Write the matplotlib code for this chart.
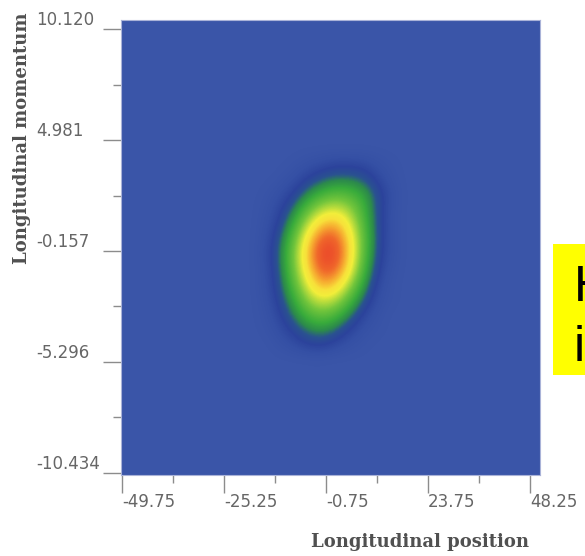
import matplotlib
matplotlib.use("Agg")
import matplotlib.pyplot as plt
from matplotlib.colors import LinearSegmentedColormap
from matplotlib.patches import Rectangle
import numpy as np

# axis ticks as printed on the chart
pos_ticks = [-49.75, -25.25, -0.75, 23.75, 48.25]
pos_minor = [-37.5, -13.0, 11.5, 36.0]
mom_ticks = [-10.434, -5.296, -0.157, 4.981, 10.120]
mom_minor = [-7.865, -2.727, 2.412, 7.551]
pos_labels = ["-49.75", "-25.25", "-0.75", "23.75", "48.25"]
mom_labels = ["-10.434", "-5.296", "-0.157", "4.981", "10.120"]

# region of phase space covered by the density grid (position, momentum)
pos_range = (-20.3, 20.0)
mom_range = (-5.55, 4.87)

# relative density, top row = highest momentum
density = np.array([
    [0, 0.00, 0.00, 0.00, 0.00, 0.00, 0.00, 0.00, 0.00, 0.00, 0.00, 0],
    [0, 0.00, 0.00, 0.01, 0.03, 0.05, 0.07, 0.07, 0.06, 0.03, 0.01, 0],
    [0, 0.00, 0.01, 0.04, 0.09, 0.14, 0.17, 0.17, 0.14, 0.07, 0.02, 0],
    [0, 0.01, 0.04, 0.09, 0.19, 0.28, 0.33, 0.31, 0.24, 0.12, 0.04, 0],
    [0, 0.02, 0.07, 0.17, 0.34, 0.49, 0.54, 0.45, 0.28, 0.12, 0.03, 0],
    [0, 0.03, 0.10, 0.26, 0.51, 0.72, 0.75, 0.57, 0.31, 0.12, 0.03, 0],
    [0, 0.04, 0.14, 0.35, 0.66, 0.90, 0.90, 0.66, 0.34, 0.12, 0.03, 0],
    [0, 0.05, 0.16, 0.40, 0.73, 0.97, 0.95, 0.68, 0.33, 0.11, 0.03, 0],
    [0, 0.04, 0.15, 0.38, 0.68, 0.91, 0.88, 0.62, 0.29, 0.09, 0.02, 0],
    [0, 0.04, 0.13, 0.33, 0.58, 0.77, 0.71, 0.47, 0.22, 0.06, 0.01, 0],
    [0, 0.03, 0.11, 0.25, 0.45, 0.56, 0.50, 0.32, 0.14, 0.04, 0.01, 0],
    [0, 0.02, 0.08, 0.18, 0.31, 0.37, 0.31, 0.18, 0.07, 0.02, 0.00, 0],
    [0, 0.01, 0.05, 0.11, 0.18, 0.21, 0.16, 0.08, 0.03, 0.01, 0.00, 0],
    [0, 0.00, 0.02, 0.05, 0.09, 0.10, 0.06, 0.03, 0.01, 0.00, 0.00, 0],
    [0, 0.00, 0.00, 0.00, 0.00, 0.00, 0.00, 0.00, 0.00, 0.00, 0.00, 0],
])

bg = "#3a55a8"
cmap = LinearSegmentedColormap.from_list("blob", [
    (0.00, bg), (0.04, "#3550a5"), (0.09, "#2c439c"), (0.14, "#2a5290"),
    (0.19, "#2c8a4c"), (0.26, "#38ab3b"), (0.40, "#74c63c"), (0.50, "#b8dc3c"),
    (0.58, "#f2ee3a"), (0.66, "#f8e03a"), (0.76, "#f6a830"), (0.86, "#f0682b"),
    (1.00, "#e8372a")])
cmap.set_under(bg)
cmap.set_over("#e8372a")

fig = plt.figure(figsize=(5.85, 5.56), dpi=100)
ax = fig.add_axes([121/585, 1 - 475/556, 419/585, 455/556])
ax.set_facecolor(bg)

ax.imshow(density, cmap=cmap, vmin=0, vmax=1, origin="upper", aspect="auto",
          interpolation="bicubic",
          extent=[pos_range[0], pos_range[1], mom_range[0], mom_range[1]])

ax.set_xlim(-50.0, 50.6)
ax.set_ylim(-10.53, 10.54)

for s in ax.spines.values():
    s.set_color("#aab3d8")
    s.set_linewidth(0.8)

tick_col = "#8c8c8c"
lab_col = "#666666"
ax.set_xticks(pos_ticks)
ax.set_xticklabels(pos_labels)
ax.set_xticks(pos_minor, minor=True)
ax.set_yticks(mom_ticks)
ax.set_yticklabels(mom_labels)
ax.set_yticks(mom_minor, minor=True)

ax.tick_params(axis="x", which="major", direction="out", length=13, width=1,
               color=tick_col, labelcolor=lab_col, labelsize=12, pad=0)
ax.tick_params(axis="x", which="minor", direction="out", length=6, width=1, color=tick_col)
ax.tick_params(axis="y", which="major", direction="out", length=13, width=1,
               color=tick_col, labelcolor=lab_col, labelsize=12, pad=48)
ax.tick_params(axis="y", which="minor", direction="out", length=6, width=1, color=tick_col)

for lab in ax.get_xticklabels():
    lab.set_horizontalalignment("left")
for lab in ax.get_yticklabels():
    lab.set_horizontalalignment("left")
    lab.set_verticalalignment("bottom")

fig.text(420/585, 1 - 542/556, "Longitudinal position", family="DejaVu Serif",
         weight="bold", size=13, color="#505050", ha="center", va="center")
fig.text(22/585, 1 - 138/556, "Longitudinal momentum", family="DejaVu Serif",
         weight="bold", size=13, color="#505050", ha="center", va="center",
         rotation=90)

# yellow note box cut off at the right edge, as in the source image
fig.patches.append(Rectangle((553/585, 1 - 375/556), 40/585, 131/556,
                             transform=fig.transFigure, facecolor="#ffff00",
                             edgecolor="none"))
fig.text(574/585, 1 - 265/556, "H", family="Liberation Sans", size=36,
         color="black", ha="left", va="top")
fig.text(574/585, 1 - 325/556, "i", family="Liberation Sans", size=36,
         color="black", ha="left", va="top")

fig.savefig("out.png", dpi=100)
